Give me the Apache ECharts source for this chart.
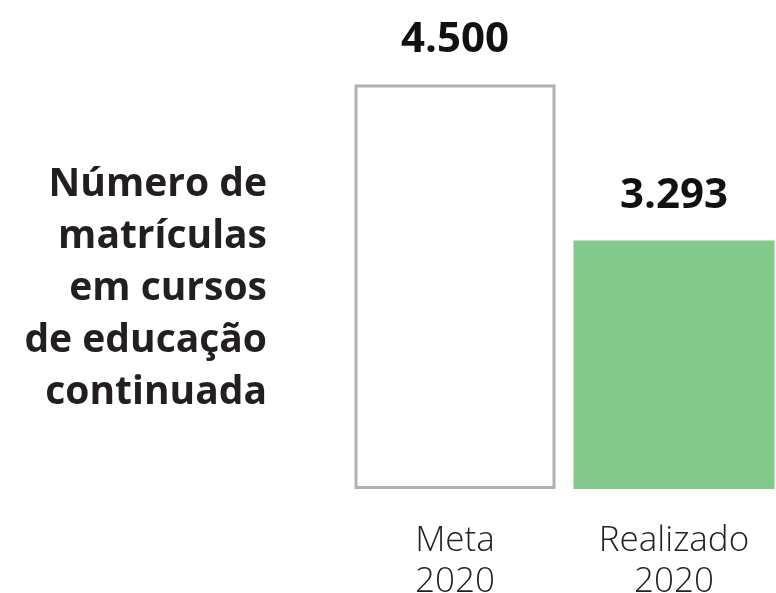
<!DOCTYPE html>
<html><head><meta charset="utf-8">
<script src="https://cdn.jsdelivr.net/npm/echarts@6/dist/echarts.min.js"></script>
<style>html,body{margin:0;padding:0;background:#fff}#c{width:776px;height:593px}</style>
</head><body><div id="c"></div>
<script>
const categories = ['Meta\n2020', 'Realizado\n2020'];
const values = [4500, 3293];
const titleText = 'Número de\nmatrículas\nem cursos\nde educação\ncontinuada';

function fmt(v){ return String(v).replace(/\B(?=(\d{3})+(?!\d))/g, '.'); }

const chart = echarts.init(document.getElementById('c'));
chart.setOption({
  backgroundColor: '#fff',
  animation: false,
  graphic: [{
    type: 'text', x: 267, y: 159,
    style: {
      text: titleText, align: 'right', verticalAlign: 'top',
      fontFamily: 'Open Sans', fontWeight: 'bold', fontSize: 39, lineHeight: 52, fill: '#231f20'
    }
  }],
  grid: { left: 345.5, top: 84.5, width: 438, height: 403, outerBoundsMode: 'none' },
  xAxis: {
    type: 'category', data: categories,
    axisLine: { show: false }, axisTick: { show: false },
    axisLabel: { margin: 33, fontFamily: 'Open Sans', fontWeight: 300, fontSize: 35, lineHeight: 41, color: '#222' }
  },
  yAxis: { type: 'value', show: false, min: 1380, max: 4500, splitLine: { show: false } },
  series: [{
    type: 'bar', barWidth: 201,
    data: values.map((v, i) => ({
      value: v,
      itemStyle: i === 0
        ? { color: '#ffffff', borderColor: '#b1b1b5', borderWidth: 3 }
        : { color: '#82c98b', borderColor: '#82c98b', borderWidth: 3 }
    })),
    label: {
      show: true, position: 'top', distance: 23,
      formatter: p => fmt(p.value),
      fontFamily: 'Open Sans', fontWeight: 'bold', fontSize: 42, lineHeight: 42, color: '#111'
    }
  }]
});
</script></body></html>
